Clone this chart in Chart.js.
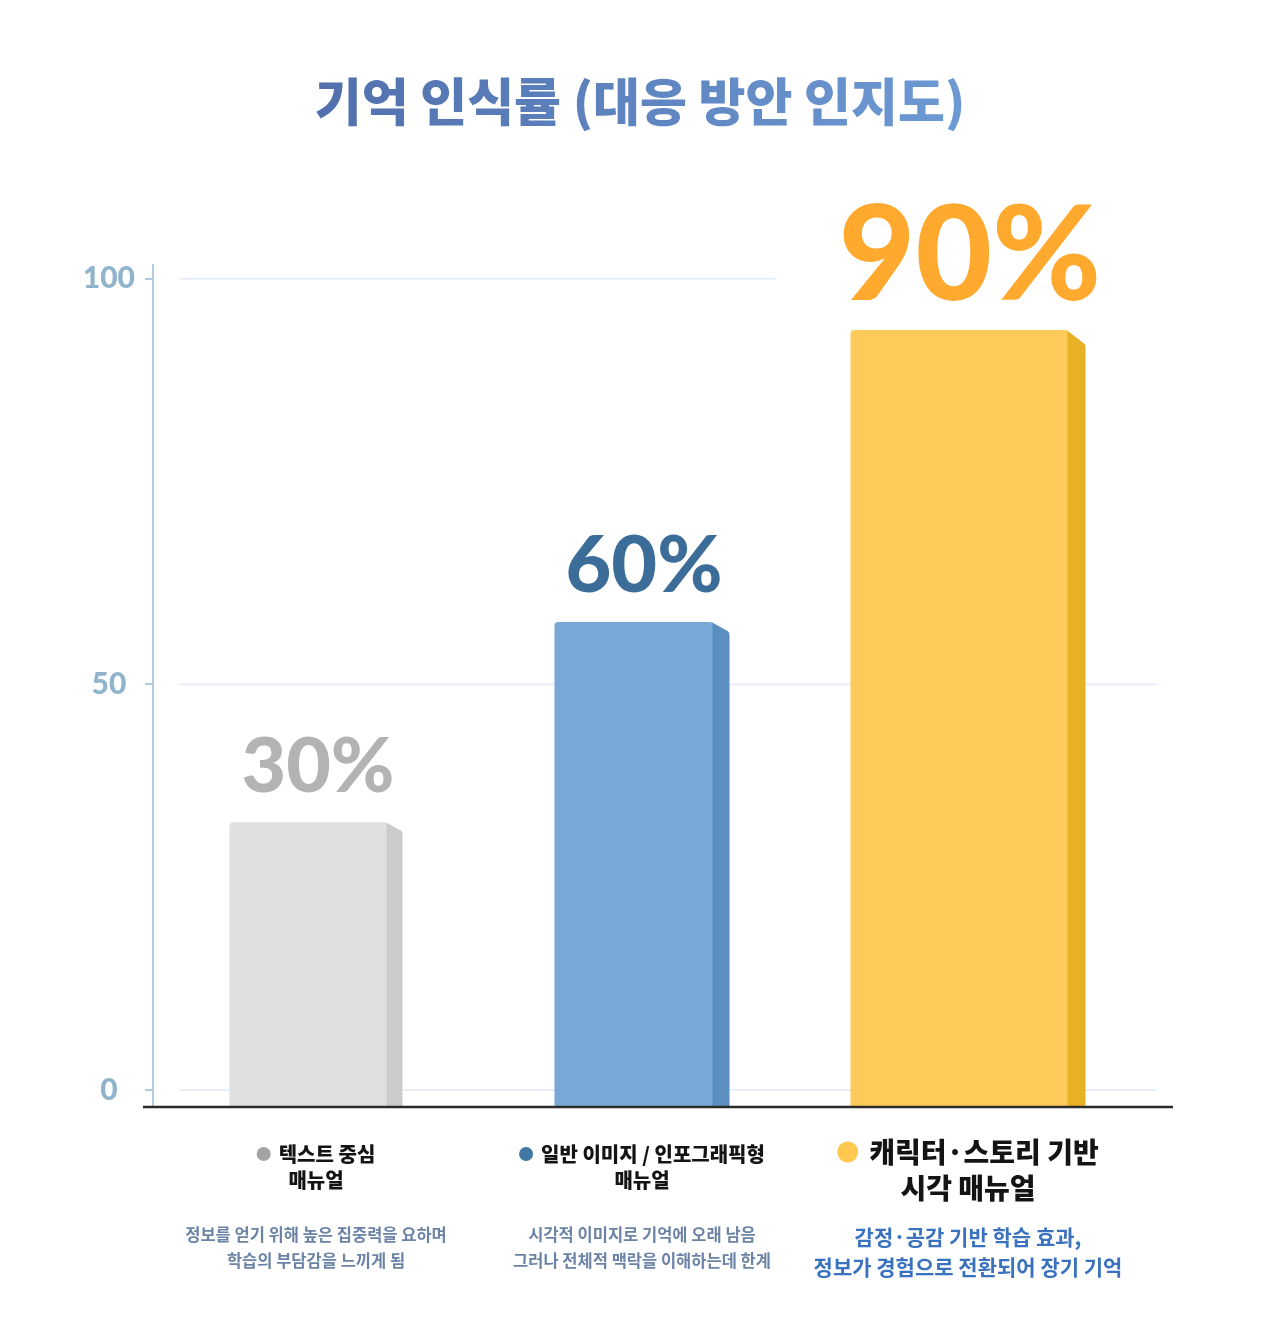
<!DOCTYPE html>
<html>
<head>
<meta charset="utf-8">
<script src="https://cdn.jsdelivr.net/npm/chart.js@4.4.1/dist/chart.umd.min.js"></script>
<style>
  html, body { margin: 0; padding: 0; background: #fff; }
  canvas { display: block; }
</style>
</head>
<body>
<canvas id="chart" width="1280" height="1317"></canvas>
<script>
// chart data
const titleText = '기억 인식률 (대응 방안 인지도)';
const categories = ['텍스트 중심 매뉴얼', '일반 이미지 / 인포그래픽형 매뉴얼', '캐릭터·스토리 기반 시각 매뉴얼'];
const nameLines = [
    ['텍스트 중심', '매뉴얼'],
    ['일반 이미지 / 인포그래픽형', '매뉴얼'],
    ['캐릭터·스토리 기반', '시각 매뉴얼']
];
const noteLines = [
    ['정보를 얻기 위해 높은 집중력을 요하며', '학습의 부담감을 느끼게 됨'],
    ['시각적 이미지로 기억에 오래 남음', '그러나 전체적 맥락을 이해하는데 한계'],
    ['감정·공감 기반 학습 효과,', '정보가 경험으로 전환되어 장기 기억']
];
const barValues = [33, 57.7, 93.7];     // bar heights as drawn on the axis
const valueLabels = ['30%', '60%', '90%'];
const yTicks = [0, 50, 100];
const yMin = -2.1;
const yMax = 101.7;

// styles
const frontColors = ['#e0e0e0', '#77a8d8', '#fecb5a'];
const sideColors = ['#cbcbcb', '#5a8fc0', '#e8b024'];
const barWidths = [173, 175, 235];
const sideDepth = [16, 17, 18];
const sideDrop = [9, 10, 14];
const labelColors = ['#b3b3b3', '#3b6d98', '#ffaa2f'];
const labelSizes = [77, 79, 132];
const bulletColors = ['#a3a3a3', '#3f77a5', '#ffc94f'];
const KR = '"Noto Sans CJK KR", "Noto Sans", sans-serif';

const canvas = document.getElementById('chart');
const ctx = canvas.getContext('2d');

const titleGradient = ctx.createLinearGradient(313, 0, 967, 0);
titleGradient.addColorStop(0, '#5170ad');
titleGradient.addColorStop(1, '#6d9ad4');

// where each value label sits, from the bar element
function labelBox(c, el, i) {
    const size = labelSizes[i];
    c.font = '900 ' + size + 'px Lato';
    const w = c.measureText(valueLabels[i]).width;
    return { x: el.x + 2, base: el.y - 30, w: w, h: size * 0.8 };
}

// title
const titlePlugin = {
    id: 'titleText',
    afterDraw(chart) {
        const c = chart.ctx;
        c.save();
        c.font = '900 51px ' + KR;
        c.fillStyle = titleGradient;
        c.textAlign = 'center';
        c.textBaseline = 'middle';
        c.fillText(titleText, chart.width / 2, 102);
        c.restore();
    }
};

// light grid lines, shifted right of the axis, broken around the value labels
const gridPlugin = {
    id: 'softGrid',
    beforeDatasetsDraw(chart) {
        const c = chart.ctx, area = chart.chartArea, y = chart.scales.y;
        c.save();
        c.strokeStyle = '#e6eef7';
        c.lineWidth = 2;
        yTicks.forEach(v => {
            const py = y.getPixelForValue(v);
            c.beginPath();
            c.moveTo(area.left + 26, py);
            c.lineTo(area.right + 26, py);
            c.stroke();
        });
        chart.data.datasets.forEach((ds, i) => {
            chart.getDatasetMeta(i).data.forEach((el, j) => {
                if (ds.data[j] == null) return;
                const b = labelBox(c, el, i);
                c.fillStyle = '#fff';
                c.fillRect(b.x - b.w / 2 - 62, b.base - b.h, b.w + 150, b.h + 6);
            });
        });
        c.restore();
    }
};

// 3d looking bars
const barPlugin = {
    id: 'bar3d',
    beforeDatasetDraw(chart, args) {
        const c = chart.ctx;
        const i = args.index;
        const ds = chart.data.datasets[i];
        args.meta.data.forEach((el, j) => {
            if (ds.data[j] == null) return;
            const p = el.getProps(['x', 'y', 'base', 'width'], true);
            const left = p.x - p.width / 2;
            const right = p.x + p.width / 2;
            const edge = right - sideDepth[i];
            c.save();
            c.fillStyle = sideColors[i];
            c.beginPath();
            c.moveTo(edge - 1, p.y);
            c.lineTo(right - 2, p.y + sideDrop[i] - 1);
            c.quadraticCurveTo(right, p.y + sideDrop[i], right, p.y + sideDrop[i] + 3);
            c.lineTo(right, p.base);
            c.lineTo(edge - 1, p.base);
            c.closePath();
            c.fill();
            c.fillStyle = frontColors[i];
            c.beginPath();
            c.roundRect(left, p.y, edge - left, p.base - p.y, [4, 3, 0, 0]);
            c.fill();
            c.restore();
        });
        return false;
    },
    afterDatasetsDraw(chart) {
        const c = chart.ctx, area = chart.chartArea;
        // base line
        c.save();
        c.strokeStyle = '#2b2b2b';
        c.lineWidth = 2.5;
        c.beginPath();
        c.moveTo(area.left - 10, area.bottom);
        c.lineTo(area.right + 42, area.bottom);
        c.stroke();
        // value labels
        chart.data.datasets.forEach((ds, i) => {
            chart.getDatasetMeta(i).data.forEach((el, j) => {
                if (ds.data[j] == null) return;
                const b = labelBox(c, el, i);
                c.fillStyle = labelColors[i];
                c.textAlign = 'center';
                c.textBaseline = 'alphabetic';
                c.fillText(valueLabels[i], b.x, b.base);
            });
        });
        c.restore();
    }
};

// category names and notes under the axis
const categoryPlugin = {
    id: 'categoryText',
    afterDraw(chart) {
        const c = chart.ctx, x = chart.scales.x;
        c.save();
        c.textBaseline = 'middle';
        categories.forEach((cat, i) => {
            const cx = x.getPixelForValue(i);
            const big = i === 2;
            const nameFont = (big ? '900 28px ' : '900 20px ') + KR;
            const r = big ? 10.5 : 7;
            const gap = big ? 11 : 8;
            const y1 = big ? 1152 : 1154;
            const y2 = big ? 1188 : 1180;
            c.font = nameFont;
            const w = c.measureText(nameLines[i][0]).width;
            const start = cx - (2 * r + gap + w) / 2;
            c.fillStyle = bulletColors[i];
            c.beginPath();
            c.arc(start + r, y1, r, 0, Math.PI * 2);
            c.fill();
            c.fillStyle = '#141414';
            c.textAlign = 'left';
            c.fillText(nameLines[i][0], start + 2 * r + gap, y1);
            c.textAlign = 'center';
            c.fillText(nameLines[i][1], cx, y2);

            c.font = (big ? '700 21px ' : '700 16.5px ') + KR;
            c.fillStyle = big ? '#3b72bf' : '#6b84a6';
            c.fillText(noteLines[i][0], cx, big ? 1237 : 1235);
            c.fillText(noteLines[i][1], cx, big ? 1267 : 1261);
        });
        c.restore();
    }
};

new Chart(ctx, {
    type: 'bar',
    data: {
        labels: categories,
        datasets: barValues.map((v, i) => ({
            label: categories[i],
            data: categories.map((_, j) => (j === i ? v : null)),
            backgroundColor: frontColors[i],
            barThickness: barWidths[i],
            base: yMin,
            skipNull: true
        }))
    },
    options: {
        responsive: false,
        animation: false,
        layout: { padding: { top: 265, bottom: 210, left: 0, right: 149 } },
        plugins: {
            legend: { display: false },
            tooltip: { enabled: false }
        },
        scales: {
            x: {
                display: false
            },
            y: {
                min: yMin,
                max: yMax,
                afterBuildTicks: axis => {
                    axis.ticks = yTicks.map(v => ({ value: v }));
                },
                afterFit: axis => {
                    axis.width = 153;
                },
                border: { color: '#aecbe3', width: 2 },
                grid: {
                    drawOnChartArea: false,
                    drawTicks: true,
                    tickLength: 8,
                    color: '#aecbe3',
                    lineWidth: 2
                },
                ticks: {
                    crossAlign: 'center',
                    padding: 10,
                    color: '#90b4cc',
                    font: { family: 'Lato', weight: '900', size: 30 }
                }
            }
        }
    },
    plugins: [titlePlugin, gridPlugin, barPlugin, categoryPlugin]
});
</script>
</body>
</html>
